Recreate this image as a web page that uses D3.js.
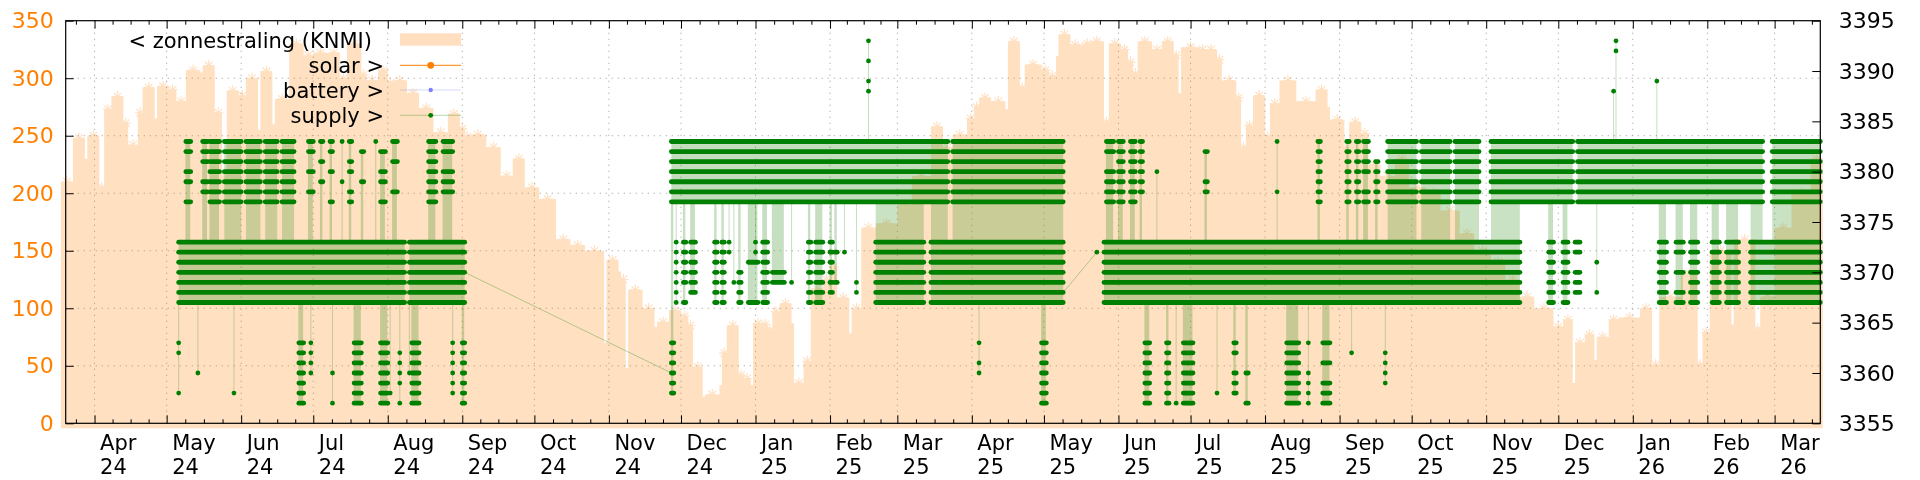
<!DOCTYPE html>
<html><head><meta charset="utf-8">
<script src="https://cdn.jsdelivr.net/npm/d3@7"></script>
<style>body{margin:0;background:#fff} svg{display:block} text{font-family:"DejaVu Sans",sans-serif}</style>
</head><body><svg id="c" width="1920" height="480"></svg>
<script>
// ---------------- data ----------------
const axisStart = "2024-03-20", axisEnd = "2026-03-20";
const y1Ticks = [0,50,100,150,200,250,300,350];
const y2Ticks = [3355,3360,3365,3370,3375,3380,3385,3390,3395];
const legendLabels = ["< zonnestraling (KNMI)","solar >","battery >","supply >"];

// zonnestraling (KNMI): [start of step, value]
const radiation = [
["2024-03-18",210],["2024-03-23",248],["2024-03-28",230],["2024-03-29",250],["2024-04-03",205],["2024-04-05",273],["2024-04-08",284],["2024-04-13",261],["2024-04-15",242],["2024-04-19",270],["2024-04-21",292],["2024-04-26",265],["2024-04-27",293],["2024-05-02",290],["2024-05-05",280],["2024-05-09",307],["2024-05-15",305],["2024-05-16",311],["2024-05-21",270],["2024-05-24",215],["2024-05-26",289],["2024-05-31",285],["2024-06-03",300],["2024-06-08",255],["2024-06-09",306],["2024-06-14",260],["2024-06-15",282],["2024-06-21",330],["2024-06-27",320],["2024-07-01",322],["2024-07-07",322],["2024-07-12",300],["2024-07-15",330],["2024-07-21",303],["2024-07-23",298],["2024-07-28",307],["2024-08-01",296],["2024-08-03",298],["2024-08-09",287],["2024-08-14",274],["2024-08-20",253],["2024-08-26",269],["2024-08-31",256],["2024-09-02",249],["2024-09-04",251],["2024-09-11",240],["2024-09-17",215],["2024-09-22",230],["2024-09-27",205],["2024-10-03",195],["2024-10-10",160],["2024-10-16",155],["2024-10-22",150],["2024-10-30",70],["2024-10-31",142],["2024-11-05",132],["2024-11-06",125],["2024-11-08",48],["2024-11-09",116],["2024-11-15",100],["2024-11-20",84],["2024-11-21",88],["2024-11-26",98],["2024-12-01",93],["2024-12-04",85],["2024-12-06",49],["2024-12-10",23],["2024-12-11",25],["2024-12-17",33],["2024-12-18",61],["2024-12-20",85],["2024-12-25",42],["2024-12-27",39],["2024-12-30",33],["2024-12-31",87],["2025-01-04",86],["2025-01-06",81],["2025-01-08",97],["2025-01-11",104],["2025-01-16",87],["2025-01-17",35],["2025-01-21",54],["2025-01-24",117],["2025-01-29",125],["2025-02-01",136],["2025-02-04",109],["2025-02-09",78],["2025-02-10",100],["2025-02-14",170],["2025-02-20",174],["2025-03-01",190],["2025-03-07",215],["2025-03-15",258],["2025-03-20",240],["2025-03-24",251],["2025-03-30",265],["2025-04-02",275],["2025-04-04",283],["2025-04-09",280],["2025-04-15",273],["2025-04-16",332],["2025-04-21",292],["2025-04-23",312],["2025-04-30",307],["2025-05-03",302],["2025-05-06",319],["2025-05-07",338],["2025-05-12",329],["2025-05-16",327],["2025-05-18",330],["2025-05-20",332],["2025-05-26",262],["2025-05-28",330],["2025-06-02",325],["2025-06-05",314],["2025-06-07",304],["2025-06-09",332],["2025-06-15",325],["2025-06-19",332],["2025-06-24",320],["2025-06-26",287],["2025-06-27",327],["2025-07-05",325],["2025-07-07",325],["2025-07-12",316],["2025-07-14",298],["2025-07-20",283],["2025-07-22",240],["2025-07-24",259],["2025-07-27",285],["2025-08-01",249],["2025-08-03",278],["2025-08-07",298],["2025-08-14",280],["2025-08-22",290],["2025-08-27",275],["2025-08-28",264],["2025-09-03",240],["2025-09-05",262],["2025-09-10",252],["2025-09-13",225],["2025-09-18",215],["2025-09-24",230],["2025-09-30",205],["2025-10-07",200],["2025-10-13",185],["2025-10-21",165],["2025-10-27",150],["2025-11-03",140],["2025-11-09",125],["2025-11-15",110],["2025-11-21",100],["2025-11-29",84],["2025-12-03",90],["2025-12-07",35],["2025-12-08",70],["2025-12-12",77],["2025-12-16",55],["2025-12-17",75],["2025-12-22",90],["2025-12-26",92],["2026-01-04",100],["2026-01-09",51],["2026-01-12",110],["2026-01-21",130],["2026-01-28",51],["2026-01-30",79],["2026-02-02",150],["2026-02-11",86],["2026-02-12",160],["2026-02-21",82],["2026-02-23",110],["2026-03-01",170],["2026-03-08",200],["2026-03-16",230],["2026-03-21",230]
];

// supply: dense runs [start, end, lowest level, highest level] (every level in between occupied)
const supplyRuns = [
["2024-05-06","2024-08-08",3367,3373],["2024-08-10","2024-09-02",3367,3373],
["2024-05-25","2024-06-01",3377,3383],["2024-06-03","2024-06-09",3377,3383],["2024-06-11","2024-06-16",3377,3383],["2024-06-18","2024-06-23",3377,3383],
["2024-11-27","2025-03-22",3377,3383],["2025-03-24","2025-05-09",3377,3383],
["2025-02-20","2025-03-12",3367,3373],["2025-03-15","2025-05-09",3367,3373],
["2025-05-26","2025-11-15",3367,3373],
["2025-09-21","2025-10-03",3377,3383],["2025-10-05","2025-10-17",3377,3383],["2025-10-19","2025-10-29",3377,3383],
["2025-11-03","2025-12-07",3377,3383],["2025-12-09","2026-02-24",3377,3383],["2026-02-28","2026-03-20",3377,3383],
["2026-02-19","2026-03-20",3367,3373]
];
// supply: sparse clusters [start, end, levels]
const supplyDots = [
["2024-05-09","2024-05-11",[3383,3382,3380,3379,3377]],["2024-05-16","2024-05-18",[3383,3382,3381,3379,3378]],
["2024-05-19","2024-05-23",[3383,3382,3381,3380,3379,3378,3377]],["2024-06-29","2024-07-01",[3383,3382,3380,3378]],
["2024-07-04","2024-07-05",[3383,3381,3379]],["2024-07-08","2024-07-09",[3383,3382,3380,3377]],
["2024-07-13","2024-07-13",[3383,3379]],["2024-07-16","2024-07-17",[3383,3381,3380,3378,3377]],
["2024-07-21","2024-07-22",[3382,3379]],["2024-07-27","2024-07-27",[3383]],
["2024-07-29","2024-07-31",[3382,3380,3379,3377]],["2024-08-03","2024-08-05",[3383,3381,3378]],
["2024-08-18","2024-08-21",[3383,3382,3381,3380,3379,3378,3377]],["2024-08-24","2024-08-28",[3383,3382,3380,3379,3378]],
["2024-05-06","2024-05-06",[3363,3362,3358]],["2024-05-14","2024-05-14",[3360]],["2024-05-29","2024-05-29",[3358]],
["2024-06-25","2024-06-27",[3363,3362,3361,3360,3359,3358,3357]],["2024-06-30","2024-06-30",[3363,3362,3361,3360]],
["2024-07-09","2024-07-09",[3360,3357]],["2024-07-18","2024-07-21",[3363,3362,3361,3360,3359,3358,3357]],
["2024-07-29","2024-08-01",[3363,3362,3361,3360,3359,3358,3357]],["2024-08-02","2024-08-02",[3358]],
["2024-08-06","2024-08-06",[3362,3361,3360,3359,3357]],["2024-08-10","2024-08-10",[3360]],
["2024-08-11","2024-08-14",[3363,3362,3361,3360,3359,3358,3357]],["2024-08-28","2024-08-28",[3363,3362,3361,3360,3359,3358]],
["2024-09-01","2024-09-02",[3363,3362,3361,3360,3359,3358,3357]],
["2024-11-27","2024-11-28",[3363,3362,3361,3360,3359,3358]],
["2024-11-29","2024-11-29",[3373,3372,3371,3370,3369,3368,3367]],["2024-12-02","2024-12-03",[3373,3372,3371,3370,3369,3367]],
["2024-12-05","2024-12-07",[3373,3372,3371,3370,3369,3368]],["2024-12-15","2024-12-16",[3373,3372,3371,3370,3369,3368,3367]],
["2024-12-18","2024-12-19",[3373,3372,3371,3370,3369,3368,3367]],["2024-12-21","2024-12-21",[3373,3372]],
["2024-12-23","2024-12-23",[3369]],["2024-12-25","2024-12-26",[3370,3369,3368,3367]],
["2024-12-29","2025-01-02",[3371,3367]],["2025-01-01","2025-01-01",[3373,3372]],
["2025-01-04","2025-01-06",[3373,3372,3371,3370,3369,3368,3367]],["2025-01-08","2025-01-13",[3370,3369]],
["2025-01-16","2025-01-16",[3369]],["2025-01-23","2025-01-24",[3373,3372,3371,3370,3369,3368,3367]],
["2025-01-26","2025-01-29",[3373,3372,3371,3370,3369,3368,3367]],["2025-02-01","2025-02-02",[3373,3372,3371,3370,3369,3368]],
["2025-02-03","2025-02-04",[3372,3369]],["2025-02-07","2025-02-07",[3372]],["2025-02-12","2025-02-12",[3369,3368]],
["2025-02-17","2025-02-17",[3393,3391,3389,3388]],
["2025-04-04","2025-04-04",[3363,3361,3360]],["2025-04-30","2025-05-02",[3363,3362,3361,3360,3359,3358,3357]],
["2025-05-23","2025-05-23",[3372]],
["2025-05-27","2025-05-30",[3383,3382,3380,3379,3378,3377]],["2025-06-01","2025-06-03",[3383,3382,3381,3380,3379,3378,3377]],
["2025-06-06","2025-06-08",[3383,3382,3381,3380,3379,3378,3377]],["2025-06-10","2025-06-11",[3383,3382,3381,3380,3379,3378]],
["2025-06-17","2025-06-17",[3380]],["2025-07-07","2025-07-08",[3382,3379,3378]],["2025-08-06","2025-08-06",[3383,3378]],
["2025-08-23","2025-08-24",[3383,3382,3381,3380,3379,3378,3377]],["2025-09-04","2025-09-05",[3383,3382,3381,3380,3379,3378,3377]],
["2025-09-08","2025-09-09",[3383,3382,3381,3380,3379,3378,3377]],["2025-09-11","2025-09-13",[3383,3382,3381,3380,3378,3377]],
["2025-09-16","2025-09-17",[3381,3380,3379,3378,3377]],
["2025-06-12","2025-06-14",[3363,3362,3361,3360,3359,3358,3357]],["2025-06-21","2025-06-22",[3363,3362,3361,3360,3359,3358,3357]],
["2025-06-25","2025-06-25",[3357]],["2025-06-28","2025-07-02",[3363,3362,3361,3360,3359,3358,3357]],
["2025-07-12","2025-07-12",[3358]],["2025-07-19","2025-07-20",[3363,3362,3360,3359,3358]],["2025-07-24","2025-07-25",[3360,3357]],
["2025-08-10","2025-08-15",[3363,3362,3361,3360,3359,3358,3357]],["2025-08-19","2025-08-19",[3363,3360,3359,3358,3357]],
["2025-08-25","2025-08-28",[3363,3361,3359,3358,3357]],["2025-09-06","2025-09-06",[3362]],["2025-09-20","2025-09-20",[3362,3361,3360,3359]],
["2025-11-27","2025-11-29",[3373,3372,3371,3370,3369,3368,3367]],["2025-12-03","2025-12-05",[3373,3372,3371,3370,3369,3368,3367]],
["2025-12-08","2025-12-10",[3373,3372,3370,3369,3368]],["2025-12-17","2025-12-17",[3371,3368]],
["2025-12-24","2025-12-24",[3388]],["2025-12-25","2025-12-25",[3393,3392]],["2026-01-11","2026-01-11",[3389]],
["2026-01-12","2026-01-15",[3373,3372,3371,3370,3369,3368,3367]],["2026-01-19","2026-01-22",[3373,3372,3370,3368,3367]],
["2026-01-25","2026-01-28",[3373,3372,3371,3370,3369,3368,3367]],["2026-02-03","2026-02-06",[3373,3372,3371,3370,3369,3368,3367]],
["2026-02-09","2026-02-14",[3373,3372,3371,3370,3369,3368,3367]]
];
// supply: connecting lines across periods without data [date, level, date, level]
const supplyGaps = [["2024-09-02",3370,"2024-11-27",3360],["2025-05-09",3368,"2025-05-23",3372]];

// ---------------- chart ----------------
const parse = d3.utcParse("%Y-%m-%d");
const L = 65.7, R = 1820.3, T = 20.7, B = 423.3;
const svg = d3.select("#c");
const x = d3.scaleUtc().domain([parse(axisStart), parse(axisEnd)]).range([L, R]);
const y1 = d3.scaleLinear().domain([y1Ticks[0], y1Ticks[y1Ticks.length-1]]).range([B, T]);
const y2 = d3.scaleLinear().domain([y2Ticks[0], y2Ticks[y2Ticks.length-1]]).range([B, T]);
const ORANGE = "#ff8000", GREEN = "#008000";

const months = d3.utcMonth.range(parse(axisStart), parse(axisEnd));
const allMonths = d3.utcMonth.range(d3.utcMonth.floor(parse(axisStart)), d3.utcMonth.offset(parse(axisEnd), 1));
const minors = [];
allMonths.forEach(m => {
  const n = d3.utcMonth.offset(m, 1);
  for (let k = 1; k < 4; k++) minors.push(new Date(+m + k * (n - m) / 4));
});
const minorIn = minors.filter(d => d >= x.domain()[0] && d <= x.domain()[1]);

// grid
const grid = svg.append("g").attr("stroke", "#a8a8a8").attr("stroke-width", 1).attr("stroke-dasharray", "1.2,4.8");
grid.selectAll(".gx").data(months).join("line").attr("x1", d => x(d)).attr("x2", d => x(d)).attr("y1", T).attr("y2", B);
grid.selectAll(".gy").data(y1Ticks.filter(v => v > y1.domain()[0] && v < y1.domain()[1])).join("line")
  .attr("x1", L).attr("x2", R).attr("y1", d => y1(d)).attr("y2", d => y1(d));

// radiation area
const rad = radiation.map(([d, v]) => ({date: parse(d), v}));
const gRad = svg.append("g").attr("opacity", 0.25);
gRad.append("path").datum(rad)
  .attr("d", d3.area().x(d => x(d.date)).y0(y1(0) + 5).y1(d => y1(d.v)).curve(d3.curveStepAfter))
  .attr("fill", ORANGE);
const stars = [];
for (let i = 0; i < rad.length - 1; i++) {
  const xa = x(rad[i].date), xb = x(rad[i + 1].date);
  if (xb - xa >= 4) stars.push({cx: (xa + xb) / 2, cy: y1(rad[i].v)});
}
gRad.selectAll(".star").data(stars).join("path")
  .attr("transform", d => `translate(${d.cx},${d.cy})`)
  .attr("d", "M-5,0H5M0,-5.5V5.5M-3.8,-3.8L3.8,3.8M-3.8,3.8L3.8,-3.8")
  .attr("stroke", ORANGE).attr("stroke-width", 1.1).attr("fill", "none");

// supply
const runs = supplyRuns.map(([s, e, lo, hi]) => ({s: parse(s), e: parse(e), lo, hi}));
const dots = supplyDots.map(([s, e, lv]) => ({s: parse(s), e: parse(e), lv}));
const gS = svg.append("g");
gS.selectAll(".hr").data(runs).join("rect")
  .attr("x", d => x(d.s)).attr("width", d => x(d.e) - x(d.s))
  .attr("y", d => y2(d.hi)).attr("height", d => y2(d.lo) - y2(d.hi))
  .attr("fill", "rgb(70,150,50)").attr("opacity", 0.32);
const between = [];
runs.forEach(a => runs.forEach(b => {
  if (a.hi < b.lo) {
    const s = Math.max(+a.s, +b.s), e = Math.min(+a.e, +b.e);
    if (e > s) between.push({s: new Date(s), e: new Date(e), lo: a.hi, hi: b.lo});
  }
}));
gS.selectAll(".hb").data(between).join("rect")
  .attr("x", d => x(d.s)).attr("width", d => x(d.e) - x(d.s))
  .attr("y", d => y2(d.hi)).attr("height", d => y2(d.lo) - y2(d.hi))
  .attr("fill", "rgb(80,160,60)").attr("opacity", 0.3);
const links = [];
dots.forEach(c => {
  const act = runs.filter(r => r.s <= c.s && r.e >= c.s);
  if (!act.length) return;
  const cmin = d3.min(c.lv), cmax = d3.max(c.lv);
  let best = null, bd = Infinity;
  act.forEach(r => {
    const dd = cmax < r.lo ? r.lo - cmax : (cmin > r.hi ? cmin - r.hi : 0);
    if (dd < bd) { bd = dd; best = r; }
  });
  const top = cmax < best.lo ? best.lo : cmax;
  const bot = cmin > best.hi ? best.hi : cmin;
  links.push({s: c.s, e: c.e, lo: bot, hi: top});
});
gS.selectAll(".lk").data(links).join("rect")
  .attr("x", d => x(d.s) - 0.5).attr("width", d => Math.max(1, x(d.e) - x(d.s)))
  .attr("y", d => y2(d.hi)).attr("height", d => y2(d.lo) - y2(d.hi))
  .attr("fill", "rgb(70,150,50)").attr("opacity", 0.3);
gS.selectAll(".gp").data(supplyGaps).join("line")
  .attr("x1", d => x(parse(d[0]))).attr("y1", d => y2(d[1]))
  .attr("x2", d => x(parse(d[2]))).attr("y2", d => y2(d[3]))
  .attr("stroke", GREEN).attr("stroke-opacity", 0.3).attr("stroke-width", 1);
const rows = [];
runs.forEach(r => { for (let l = r.lo; l <= r.hi; l++) rows.push({s: r.s, e: r.e, l}); });
dots.forEach(c => c.lv.forEach(l => rows.push({s: c.s, e: c.e, l})));
gS.selectAll(".row").data(rows).join("line")
  .attr("x1", d => x(d.s)).attr("x2", d => x(d.e))
  .attr("y1", d => y2(d.l)).attr("y2", d => y2(d.l))
  .attr("stroke", GREEN).attr("stroke-width", 4.8).attr("stroke-linecap", "round");

// axes
const tickStyle = g => { g.select(".domain").remove(); g.selectAll(".tick line").attr("stroke", "#000"); };
svg.append("g").attr("transform", `translate(0,${B})`)
  .call(d3.axisBottom(x).tickValues(minorIn).tickSize(-4).tickFormat(""))
  .call(tickStyle);
svg.append("g").attr("transform", `translate(0,${T})`)
  .call(d3.axisTop(x).tickValues(minorIn).tickSize(-4).tickFormat(""))
  .call(tickStyle);
svg.append("g").attr("transform", `translate(0,${T})`)
  .call(d3.axisTop(x).tickValues(months).tickSize(-8).tickFormat(""))
  .call(tickStyle);
const fm = d3.utcFormat("%b"), fy = d3.utcFormat("%y");
const xa = svg.append("g").attr("transform", `translate(0,${B})`)
  .call(d3.axisBottom(x).tickValues(months).tickSize(-8).tickFormat(""))
  .call(tickStyle);
xa.selectAll(".tick text").remove();
xa.selectAll(".tick").append("text")
  .attr("x", 5).attr("y", 27).attr("fill", "#000").attr("font-size", 21).attr("text-anchor", "start")
  .each(function(d) {
    const t = d3.select(this);
    t.append("tspan").attr("x", 5).text(fm(d));
    t.append("tspan").attr("x", 5).attr("dy", 24).text(fy(d));
  });
svg.append("g").attr("transform", `translate(${L},0)`)
  .call(d3.axisLeft(y1).tickValues(y1Ticks).tickSize(-8).tickPadding(12).tickFormat(d3.format("d")))
  .call(tickStyle)
  .call(g => g.selectAll("text").attr("fill", ORANGE).attr("font-size", 22).attr("font-family", "DejaVu Sans"));
svg.append("g").attr("transform", `translate(${R},0)`)
  .call(d3.axisRight(y2).tickValues(y2Ticks).tickSize(-8).tickPadding(18.5).tickFormat(d3.format("d")))
  .call(tickStyle)
  .call(g => g.selectAll("text").attr("fill", "#000").attr("font-size", 22).attr("font-family", "DejaVu Sans"));
svg.append("rect").attr("x", L).attr("y", T).attr("width", R - L).attr("height", B - T)
  .attr("fill", "none").attr("stroke", "#000").attr("stroke-width", 1.2);

// legend
const lg = svg.append("g").attr("font-size", 21);
const ly = [39.5, 65.3, 90, 115.3];
const lx = [372, 384, 384, 384];
lg.selectAll("text").data(legendLabels).join("text")
  .attr("x", (d, i) => lx[i]).attr("y", (d, i) => ly[i] + 8).attr("text-anchor", "end").attr("fill", "#000").text(d => d);
lg.append("rect").attr("x", 400).attr("y", ly[0] - 6.2).attr("width", 61).attr("height", 12.4).attr("fill", ORANGE).attr("opacity", 0.25);
lg.append("line").attr("x1", 400).attr("x2", 461).attr("y1", ly[1]).attr("y2", ly[1]).attr("stroke", ORANGE).attr("stroke-width", 1);
lg.append("circle").attr("cx", 430.7).attr("cy", ly[1]).attr("r", 3.4).attr("fill", ORANGE);
lg.append("line").attr("x1", 400).attr("x2", 461).attr("y1", ly[2]).attr("y2", ly[2]).attr("stroke", "#8080ff").attr("stroke-opacity", 0.3).attr("stroke-width", 1);
lg.append("circle").attr("cx", 430.7).attr("cy", ly[2]).attr("r", 2.2).attr("fill", "#8080ff");
lg.append("line").attr("x1", 400).attr("x2", 461).attr("y1", ly[3]).attr("y2", ly[3]).attr("stroke", GREEN).attr("stroke-opacity", 0.3).attr("stroke-width", 1);
lg.append("circle").attr("cx", 430.7).attr("cy", ly[3]).attr("r", 2.4).attr("fill", GREEN);
</script></body></html>
